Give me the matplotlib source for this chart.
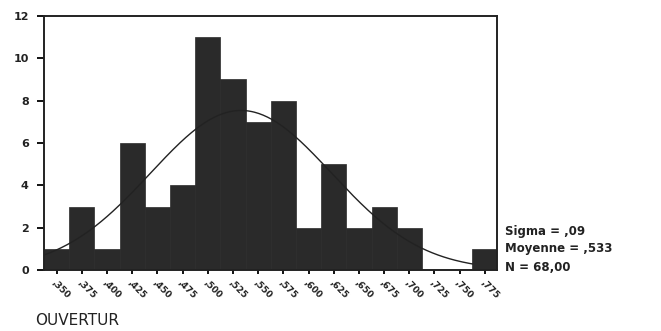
import numpy as np
import matplotlib
matplotlib.use('Agg')
import matplotlib.pyplot as plt

# histogram of OUVERTUR, bins of width ,025
bin_centers = [0.350, 0.375, 0.400, 0.425, 0.450, 0.475, 0.500, 0.525, 0.550,
               0.575, 0.600, 0.625, 0.650, 0.675, 0.700, 0.725, 0.750, 0.775]
counts = [1, 3, 1, 6, 3, 4, 11, 9, 7, 8, 2, 5, 2, 3, 2, 0, 0, 1]
tick_labels = [',350', ',375', ',400', ',425', ',450', ',475', ',500', ',525', ',550',
               ',575', ',600', ',625', ',650', ',675', ',700', ',725', ',750', ',775']
sigma = 0.09
mean = 0.533
n_obs = 68
bin_width = 0.025

plt.rcParams['font.family'] = ['DejaVu Sans']

fig = plt.figure(figsize=(6.61, 3.31), dpi=100)
ax = fig.add_axes([0.0666, 0.184, 0.686, 0.768])

ax.bar(bin_centers, counts, width=bin_width, color='#2a2a2a', edgecolor='#2a2a2a',
       linewidth=0.5, zorder=2)

# normal curve scaled to the counts
xs = np.linspace(bin_centers[0] - bin_width / 2, bin_centers[-1] - bin_width / 2, 300)
ys = n_obs * bin_width / (sigma * np.sqrt(2 * np.pi)) * np.exp(-0.5 * ((xs - mean) / sigma) ** 2)
ax.plot(xs, ys, color='#222222', linewidth=1.0, zorder=3)

ax.set_xlim(bin_centers[0] - bin_width / 2, bin_centers[-1] + bin_width / 2)
ax.set_ylim(0, 12)
ax.set_yticks(range(0, 13, 2))
ax.set_xticks(bin_centers)
ax.set_xticklabels(tick_labels, rotation=-45, ha='left', va='top', fontsize=6.5,
                   fontweight='bold', rotation_mode='anchor', color='#222222')
ax.tick_params(axis='y', labelsize=8, length=5, width=1.3, pad=6, labelcolor='#222222')
ax.tick_params(axis='x', length=3, width=1.3, pad=3)
for lab in ax.get_yticklabels():
    lab.set_fontweight('bold')
for sp in ax.spines.values():
    sp.set_linewidth(1.4)
    sp.set_color('#222222')

# stats to the right of the plot
stats_kw = dict(fontsize=8.5, fontweight='bold', color='#222222', va='center')
fig.text(0.764, 0.302, 'Sigma = ,09', **stats_kw)
fig.text(0.764, 0.248, 'Moyenne = ,533', **stats_kw)
fig.text(0.764, 0.193, 'N = 68,00', **stats_kw)

fig.text(0.053, 0.033, 'OUVERTUR', fontsize=11, color='#222222', va='center')

fig.savefig('out.png', dpi=100)
